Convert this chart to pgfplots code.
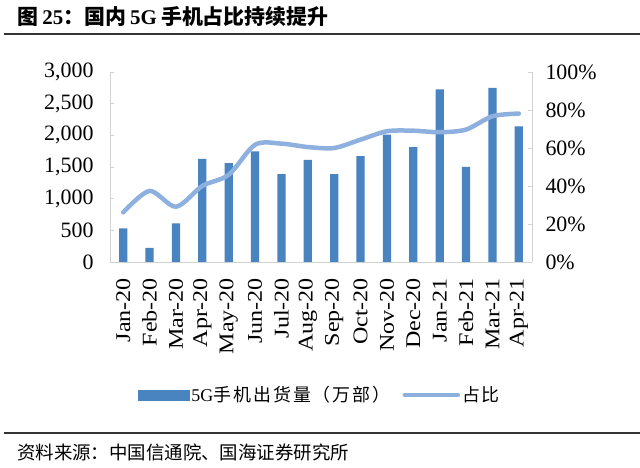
\documentclass[border=0pt]{standalone}
\usepackage{pgfplots}
\pgfplotsset{compat=1.18}
\usepackage{fontspec}
\setmainfont{Liberation Serif}
\newfontfamily\cjk{Noto Sans CJK SC}
\newfontfamily\cjksp[LetterSpace=11]{Noto Sans CJK SC}
\definecolor{barc}{RGB}{74,132,192}
\definecolor{linec}{RGB}{142,176,223}
\definecolor{axc}{RGB}{210,210,210}
\begin{document}
\begin{tikzpicture}[x=1bp,y=1bp]
\fill[white] (0,0) rectangle (640,468);
% title and rules
\node[anchor=west,inner sep=0pt] at (17,451) {\fontsize{21}{21}\selectfont\bfseries{\cjk\bfseries 图}\hspace{0.2em}25{\cjk\bfseries ：国内}\hspace{0.2em}5G\hspace{0.2em}{\cjk\bfseries 手机占比持续提升}};
\draw[line width=1.2bp,black!80] (4,434) -- (640,434);
\draw[line width=1.2bp,black!80] (4,35) -- (640,35);
\node[anchor=west,inner sep=0pt] at (17,16) {\fontsize{18.5}{18.5}\selectfont\cjk 资料来源：中国信通院、国海证券研究所};
\begin{axis}[
  at={(110bp,206bp)}, anchor=south west,
  scale only axis, width=422bp, height=190bp,
  xmin=-0.5, xmax=15.5, ymin=0, ymax=3000,
  ytick={0,500,...,3000},
  xtick={0,...,15},
  xticklabels={Jan-20,Feb-20,Mar-20,Apr-20,May-20,Jun-20,Jul-20,Aug-20,Sep-20,Oct-20,Nov-20,Dec-20,Jan-21,Feb-21,Mar-21,Apr-21},
  axis x line*=bottom, axis y line*=left,
  axis line style={axc, line width=0.8bp, -},
  tick align=inside, major tick length=4bp,
  ytick style={axc, line width=0.8bp},
  xtick style={draw=none},
  /pgf/number format/assume math mode=true,
  /pgf/number format/.cd, 1000 sep={,}, /pgfplots/.cd,
  yticklabel style={font=\fontsize{22}{22}\selectfont, xshift=-13bp},
  xticklabel style={font=\fontsize{21}{21}\selectfont, yshift=-12bp, rotate=90, xscale=1.15, anchor=east},
]
\addplot[ybar, bar width=8.3bp, fill=barc, draw=none] coordinates {
(0,530) (1,222) (2,608) (3,1630) (4,1561) (5,1746) (6,1386) (7,1614)
(8,1386) (9,1672) (10,2011) (11,1815) (12,2725) (13,1503) (14,2751) (15,2143)};
\end{axis}
\begin{axis}[
  at={(110bp,206bp)}, anchor=south west,
  scale only axis, width=422bp, height=190bp,
  xmin=-0.5, xmax=15.5, ymin=0, ymax=100,
  ytick={0,20,...,100},
  yticklabel={\pgfmathprintnumber{\tick}\%},
  axis x line=none, axis y line*=right,
  axis line style={axc, line width=0.8bp, -},
  tick align=inside, major tick length=4bp,
  ytick style={axc, line width=0.8bp},
  /pgf/number format/assume math mode=true,
  yticklabel style={font=\fontsize{22}{22}\selectfont, xshift=10bp},
  legend style={at={(0.4976,-0.70)}, anchor=center, draw=none, fill=none,
    legend columns=2, font=\fontsize{18}{18}\selectfont,
    /tikz/every even column/.append style={column sep=10bp}},
  legend cell align=left,
]
\addlegendimage{legend image code/.code={\fill[barc] (0bp,-5bp) rectangle (51bp,5bp);}}
\addlegendentry{5G{\cjksp 手机出货量（万部）}}
\addplot[linec, line width=4.5bp, smooth, tension=0.5, line cap=round,
  legend image code/.code={\draw[linec, line width=4.5bp, line cap=round] (2bp,0bp) -- (55bp,0bp);}] coordinates {
(0,26.1) (1,37.4) (2,29.1) (3,40.0) (4,45.9) (5,61.7) (6,62.3) (7,60.5)
(8,60.0) (9,64.4) (10,68.8) (11,69.1) (12,68.3) (13,69.7) (14,76.7) (15,78.1)};
\addlegendentry{\cjksp 占比}
\end{axis}
\pgfresetboundingbox
\path (0,0) rectangle (640,468);
\end{tikzpicture}
\end{document}
